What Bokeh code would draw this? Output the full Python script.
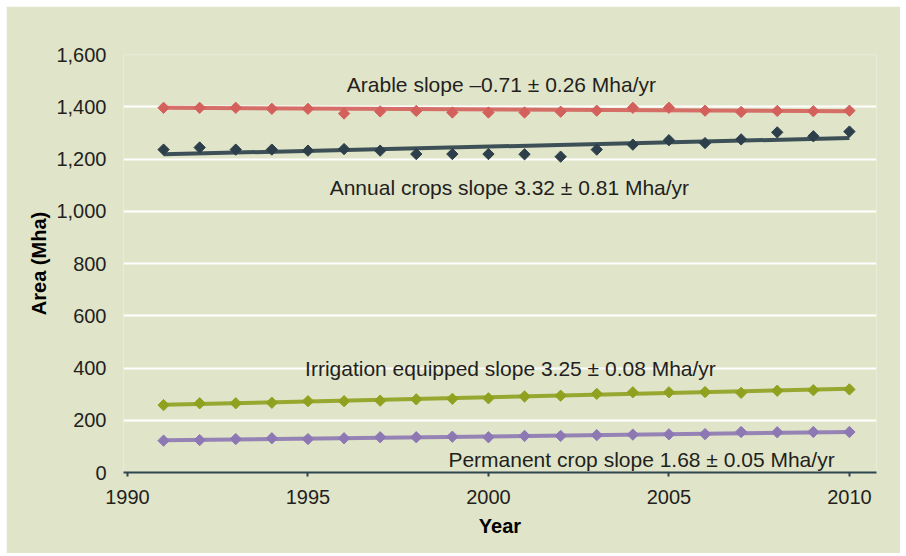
from bokeh.plotting import figure
from bokeh.models import Range1d, FixedTicker, CustomJSTickFormatter
from bokeh.embed import file_html
from bokeh.resources import INLINE
from bokeh.core.properties import value
import math

years = list(range(1991, 2011))
arable = [1396, 1396, 1396, 1392, 1392, 1374, 1382, 1384, 1378, 1378,
          1378, 1381, 1385, 1396, 1396, 1385, 1380, 1384, 1383, 1385]
annual = [1236, 1244, 1236, 1236, 1232, 1238, 1232, 1219, 1219, 1219,
          1218, 1209, 1236, 1255, 1272, 1261, 1275, 1302, 1287, 1305]
irrigation = [258, 265, 265, 267, 273, 273, 275, 280, 282, 284,
              291, 294, 301, 307, 307, 308, 305, 313, 315, 318]
permanent = [122, 124, 128, 131, 128, 131, 135, 135, 137, 135,
             140, 140, 143, 145, 146, 147, 155, 154, 155, 155]

trend_years = [1991, 2010]
arable_trend = [1396, 1383]
annual_trend = [1218, 1280]
irrigation_trend = [259, 321]
permanent_trend = [123, 155]

x_ticks = [1990, 1995, 2000, 2005, 2010]
y_ticks = [0, 200, 400, 600, 800, 1000, 1200, 1400, 1600]

labels = ["Arable slope \u20130.71 \u00b1 0.26 Mha/yr",
          "Annual crops slope 3.32 \u00b1 0.81 Mha/yr",
          "Irrigation equipped slope 3.25 \u00b1 0.08 Mha/yr",
          "Permanent crop slope 1.68 \u00b1 0.05 Mha/yr"]
label_x = [2000.36, 2000.58, 2000.61, 2004.24]
label_y = [1486, 1092, 400, 48]

FONT = "Liberation Sans"
BG = "#e0e4c8"
TXT = "#231f20"

p = figure(width=894, height=547, output_backend="svg", toolbar_location=None,
           x_range=Range1d(1989.89, 2010.75), y_range=Range1d(0, 1600),
           min_border_left=117, min_border_right=24, min_border_top=48,
           min_border_bottom=81)
p.margin = (6, 6, 3, 6)
p.outline_line_color = None
p.background_fill_color = BG
p.border_fill_color = BG

p.xgrid.grid_line_color = None
p.ygrid.grid_line_color = "white"
p.ygrid.grid_line_width = 2

xa = p.xaxis[0]
xa.ticker = FixedTicker(ticks=x_ticks)
xa.axis_line_color = "#2f4550"
xa.axis_line_width = 2
xa.major_tick_line_color = "#2f4550"
xa.major_tick_line_width = 2
xa.major_tick_in = 0
xa.major_tick_out = 4
xa.minor_tick_line_color = None
xa.major_label_standoff = 13
xa.major_label_text_font = FONT
xa.major_label_text_font_size = "20px"
xa.major_label_text_color = TXT
xa.axis_label = "Year"
xa.axis_label_text_font = FONT
xa.axis_label_text_font_size = "20px"
xa.axis_label_text_font_style = "bold"
xa.axis_label_text_color = "#000000"
xa.axis_label_standoff = 8

ya = p.yaxis[0]
ya.ticker = FixedTicker(ticks=y_ticks)
ya.formatter = CustomJSTickFormatter(code="return tick.toLocaleString('en-US');")
ya.axis_line_color = None
ya.major_tick_line_color = None
ya.minor_tick_line_color = None
ya.major_label_standoff = 11
ya.major_label_text_font = FONT
ya.major_label_text_font_size = "20px"
ya.major_label_text_color = TXT
ya.axis_label = "Area (Mha)"
ya.axis_label_text_font = FONT
ya.axis_label_text_font_size = "20px"
ya.axis_label_text_font_style = "bold"
ya.axis_label_text_color = "#000000"
ya.axis_label_standoff = 3

series = [(arable, arable_trend, "#d3605b"),
          (annual, annual_trend, "#2c3f4a"),
          (irrigation, irrigation_trend, "#8fa11f"),
          (permanent, permanent_trend, "#8d78b4")]
for vals, tr, col in series:
    p.line(trend_years, tr, line_color=col, line_width=4, line_alpha=0.9)
    p.scatter(years, vals, marker="square", angle=math.pi / 4, size=8,
              fill_color=col, line_color=col)

p.text(x=label_x, y=label_y, text=labels, text_font=value(FONT),
       text_font_size="21px", text_color=TXT, text_align="center",
       text_baseline="middle")

open("out.html", "w").write(file_html(p, INLINE))
